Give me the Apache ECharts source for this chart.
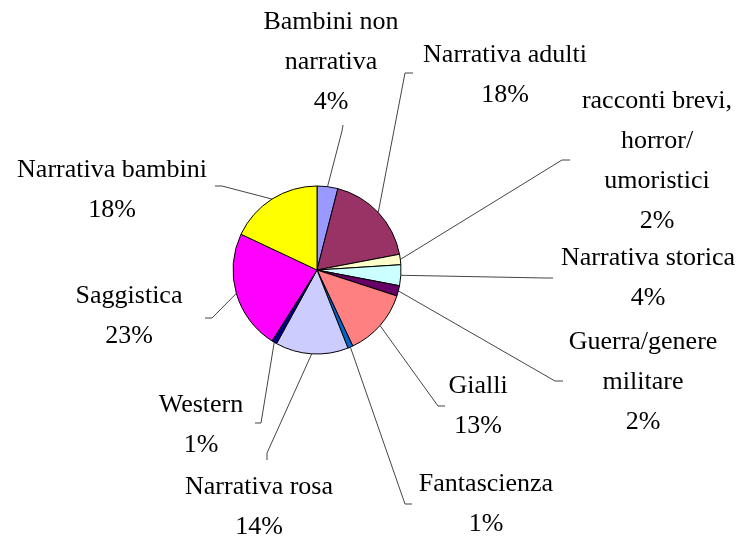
<!DOCTYPE html>
<html>
<head>
<meta charset="utf-8">
<script src="https://cdn.jsdelivr.net/npm/echarts@6/dist/echarts.min.js"></script>
<style>
    html, body { margin: 0; background: #fff; }
    #main { width: 740px; height: 540px; }
</style>
</head>
<body>
<div id="main"></div>
<script>
    let names = ['Bambini non\nnarrativa', 'Narrativa adulti', 'racconti brevi,\nhorror/\numoristici', 'Narrativa storica',
        'Guerra/genere\nmilitare', 'Gialli', 'Fantascienza', 'Narrativa rosa', 'Western', 'Saggistica', 'Narrativa bambini']
    let values = [4, 18, 2, 4, 2, 13, 1, 14, 1, 23, 18]
    let colors = ['#9999ff', '#993366', '#ffffcc', '#ccffff', '#660066', '#ff8080', '#0066cc', '#ccccff', '#000080', '#ff00ff', '#ffff00']

    // where each label sits: box centre, end of the leader line, end of its small tick
    let labelAt = [
        {x: 331, y: 62, e: [342, 131], t: [343, 125]},
        {x: 505, y: 75, e: [405, 73], t: [413, 73]},
        {x: 657, y: 161, e: [562, 160], t: [570, 160]},
        {x: 648, y: 278, e: [545, 278], t: [553, 278]},
        {x: 643, y: 382, e: [555, 381], t: [563, 381]},
        {x: 478, y: 406, e: [438, 406], t: [445, 406]},
        {x: 486, y: 504, e: [405, 504], t: [412, 504]},
        {x: 259, y: 507, e: [267, 453], t: [267, 460]},
        {x: 201, y: 425, e: [261, 423], t: [255, 423]},
        {x: 129, y: 316, e: [212, 318], t: [205, 318]},
        {x: 112, y: 190, e: [222, 186], t: [215, 186]}
    ]

    let cx = 317, cy = 270, r = 84
    let lineGap = 40
    let total = values.reduce((a, b) => a + b, 0)

    // point on the rim at the middle of slice i
    function rimPoint(i) {
        let before = 0
        for (let k = 0; k < i; k++) before += values[k]
        let a = (before + values[i] / 2) / total * Math.PI * 2
        return [cx + r * Math.sin(a), cy - r * Math.cos(a)]
    }

    // labels and leader lines, one text element per line so the serif font holds
    let graphics = []
    names.forEach(function (n, i) {
        let p = labelAt[i]
        graphics.push({
            type: 'polyline',
            silent: true,
            shape: {points: [rimPoint(i), p.e, p.t]},
            style: {stroke: '#444', lineWidth: 1, fill: null}
        })
        let lines = n.split('\n').concat([Math.round(values[i] / total * 100) + '%'])
        lines.forEach(function (s, k) {
            graphics.push({
                type: 'text',
                silent: true,
                x: p.x,
                y: p.y + (k - (lines.length - 1) / 2) * lineGap,
                style: {
                    text: s,
                    font: 'normal 26px "Liberation Serif"',
                    align: 'center',
                    verticalAlign: 'middle',
                    fill: '#000'
                }
            })
        })
    })

    let chart = echarts.init(document.getElementById('main'))
    chart.setOption({
        animation: false,
        graphic: graphics,
        series: [{
            type: 'pie',
            center: [cx, cy],
            radius: r,
            startAngle: 90,
            clockwise: true,
            emphasis: {disabled: true},
            itemStyle: {borderColor: '#000', borderWidth: 1},
            label: {show: false},
            labelLine: {show: false},
            data: names.map((n, i) => ({name: n, value: values[i], itemStyle: {color: colors[i]}}))
        }]
    })
</script>
</body>
</html>
